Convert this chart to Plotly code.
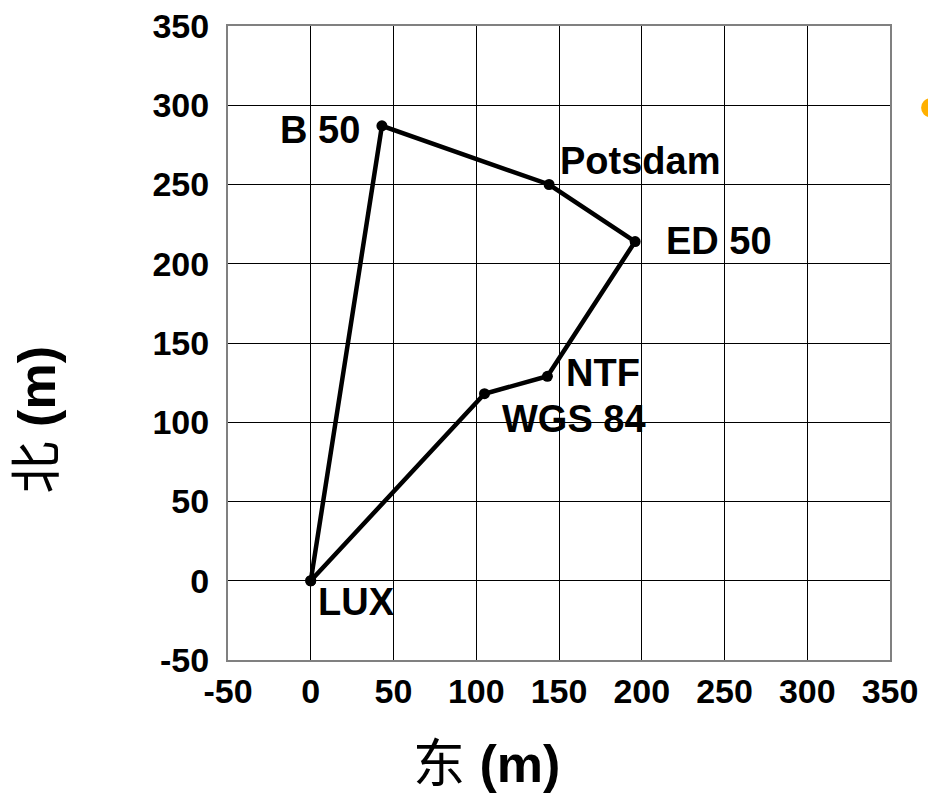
import plotly.graph_objects as go

# Data (east, north in metres), closed polygon order
names = ["LUX", "WGS 84", "NTF", "ED 50", "Potsdam", "B 50", "LUX"]
east = [0, 105, 143, 196, 144, 43, 0]
north = [0, 118, 129, 214, 250, 287, 0]

tick_vals = [-50, 0, 50, 100, 150, 200, 250, 300, 350]
tick_text = ["-50", "0", "50", "100", "150", "200", "250", "300", "350"]

# label placement (anchor, pixel shifts) per point, for the first 6 points
label_anchor = ["left", "left", "left", "left", "left", "right"]
label_dx = [5, 15, 17, 29, 9, -20]
label_dy = [-21, -25, 3, 1, 24, -4]

FONT = "Liberation Sans, Arial, Noto Sans CJK SC, sans-serif"

fig = go.Figure()
fig.add_trace(go.Scatter(
    x=east, y=north, mode="lines+markers",
    line=dict(color="black", width=4.5),
    marker=dict(color="black", size=11),
    hoverinfo="skip", showlegend=False, cliponaxis=False,
))

for i in range(6):
    fig.add_annotation(
        x=east[i], y=north[i], xref="x", yref="y",
        text="<b>%s</b>" % names[i], showarrow=False,
        xanchor=label_anchor[i], yanchor="middle",
        xshift=label_dx[i], yshift=label_dy[i],
        font=dict(family=FONT, size=38, color="black"),
    )

# axis titles
fig.add_annotation(
    x=0.391, y=-0.164, xref="paper", yref="paper",
    text="东 <b>(m)</b>", showarrow=False, xanchor="center", yanchor="middle",
    font=dict(family=FONT, size=52, color="black"),
)
fig.add_annotation(
    x=-0.288, y=0.3785, xref="paper", yref="paper",
    text="北 <b>(m)</b>", showarrow=False, xanchor="center", yanchor="middle",
    textangle=-90,
    font=dict(family=FONT, size=52, color="black"),
)

# decorative orange bullet at right edge (partly outside the page, as in the source)
fig.add_shape(type="circle", xref="paper", yref="paper",
              x0=1.047, x1=1.075, y0=0.856, y1=0.886,
              fillcolor="#FFB000", line=dict(width=0), layer="above")

axis_common = dict(
    tickmode="array", tickvals=tick_vals, ticktext=tick_text,
    showgrid=True, gridcolor="black", gridwidth=1,
    zeroline=False, showline=True, linecolor="#808080", linewidth=2,
    mirror=True, ticks="",
    tickfont=dict(family=FONT, size=34, color="black", weight="bold"),
)

fig.update_xaxes(range=[-50, 350], **axis_common, ticklabelstandoff=0)
fig.update_yaxes(range=[-50, 350], **axis_common, ticklabelstandoff=10)

fig.update_layout(
    width=928, height=797,
    margin=dict(l=228, r=38, t=26, b=137, autoexpand=False),
    paper_bgcolor="white", plot_bgcolor="white",
    font=dict(family=FONT, color="black"),
)

fig.write_html(
    "out.html",
    config={"displayModeBar": False},
    post_script="document.body.style.margin='0px';document.body.style.overflow='hidden';",
)
